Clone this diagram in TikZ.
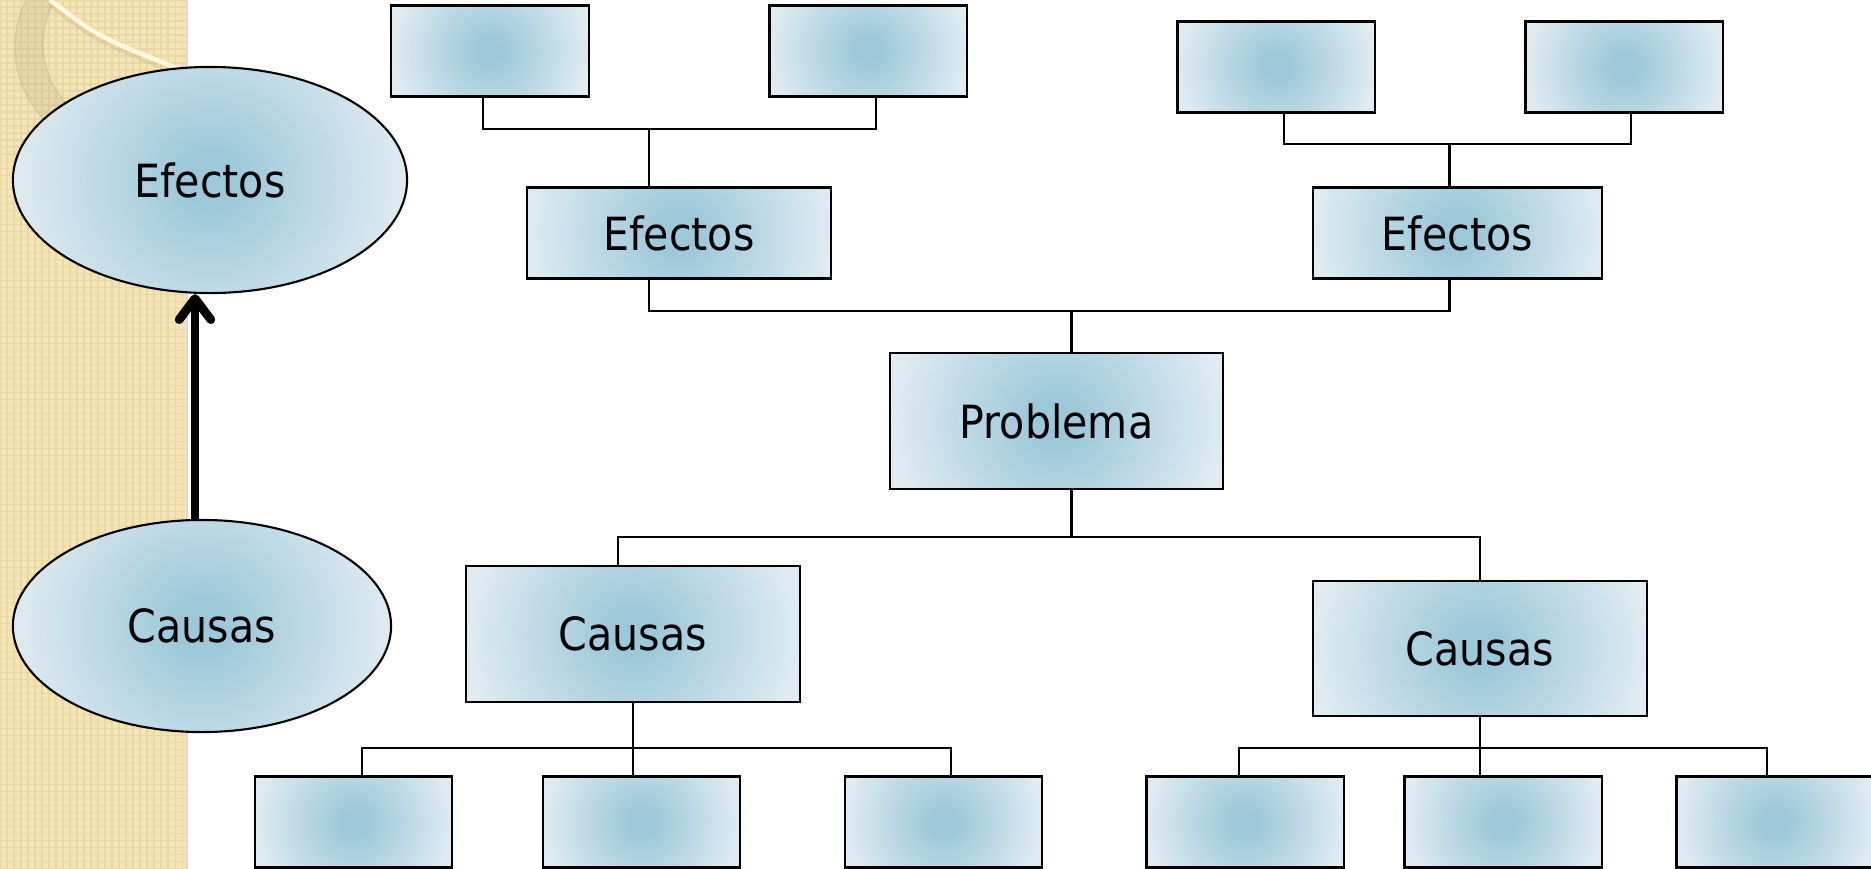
\documentclass[tikz,border=0pt]{standalone}
\usepackage{fontspec}
\setmainfont[FakeStretch=0.9]{DejaVu Sans}
\usetikzlibrary{shapes.geometric,arrows.meta,calc}
\definecolor{inblue}{RGB}{156,200,217}
\definecolor{outblue}{RGB}{223,235,241}
\definecolor{beige}{RGB}{244,228,182}
\definecolor{beigegrid}{RGB}{234,215,166}
\definecolor{beigeline}{RGB}{205,190,150}
\definecolor{highlight}{RGB}{255,248,222}
\pgfdeclareradialshading{boxshade}{\pgfpointorigin}{color(0bp)=(inblue);color(3bp)=(inblue);color(25bp)=(outblue);color(50bp)=(outblue)}
\begin{document}
\begin{tikzpicture}[x=0.01cm,y=-0.01cm,
  shadebox/.style={draw=black,line width=0.6pt,fill=outblue,
    path picture={\shade[shading=boxshade] (path picture bounding box.center) circle (#1);},
    inner sep=0pt,font=\fontsize{13}{15}\selectfont},
  sbox/.style={shadebox=0.985cm,rectangle,minimum width=1.97cm,minimum height=0.91cm},
  ebox/.style={shadebox=#1,rectangle,minimum height=0.91cm},
  bbox/.style={shadebox=1.665cm,rectangle,minimum width=3.33cm,minimum height=1.36cm},
  ell/.style={shadebox=#1,ellipse},
  conn/.style={draw=black,line width=0.6pt},
  bigarrow/.style={draw=black,line width=2.5pt,-{Straight Barb[length=6pt,width=9pt,round]}}]
\useasboundingbox (0,0) rectangle (1871,869);
\fill[white] (0,0) rectangle (1871,869);
% left strip
\fill[beige] (0,0) rectangle (187,869);
\draw[beigegrid,line width=0.35pt,step=0.07cm] (0,0) grid (187,869);
\draw[black!15,line width=0.5pt] (187,0) -- (187,869);
\begin{scope}
  \clip (0,0) rectangle (187,869);
  \fill[black,opacity=0.05,even odd rule] (120,47) circle (105) (131,44) circle (88);
  \draw[beigeline,opacity=0.6,line width=0.4pt] (120,47) circle (105);
  \draw[beigeline,opacity=0.6,line width=0.4pt] (131,44) circle (88);
  \draw[black,opacity=0.06,line width=1.2pt] (50,5) .. controls (100,43) .. (187,77);
  \draw[highlight,line width=1.3pt] (50,0) .. controls (100,38) .. (187,72);
\end{scope}
% top boxes
\node[sbox] (tl1) at (490,51) {};
\node[sbox] (tl2) at (868,51) {};
\node[sbox] (tr1) at (1276,67) {};
\node[sbox] (tr2) at (1624,67) {};
\node[ebox=1.515cm,minimum width=3.03cm] (efL) at (679,233) {Efectos};
\node[ebox=1.44cm,minimum width=2.88cm] (efR) at (1457.5,233) {Efectos};
\node[bbox] (prob) at (1056.5,421) {Problema};
\node[bbox] (caL) at (633,633.6) {Causas};
\node[bbox,minimum height=1.35cm] (caR) at (1480,648.5) {Causas};
\node[sbox] (bl1) at (353.8,822) {};
\node[sbox] (bl2) at (641.3,822) {};
\node[sbox] (bl3) at (943.2,822) {};
\node[sbox] (br1) at (1245,822) {};
\node[sbox] (br2) at (1503,822) {};
\node[sbox] (br3) at (1775,822) {};
% connectors
\draw[conn] ($(tl1.south)+(-7,0)$) -- ++(0,31) coordinate (j1) -| ($(tl2.south)+(8,0)$);
\draw[conn] ($(efL.north)+(-30,0)$) |- (j1);
\draw[conn] ($(tr1.south)+(8,0)$) -- ++(0,30) coordinate (j2) -| ($(tr2.south)+(7,0)$);
\draw[conn] ($(efR.north)+(-8,0)$) |- (j2);
\draw[conn] ($(efL.south)+(-30,0)$) -- ++(0,31) coordinate (j3) -| ($(efR.south)+(-8,0)$);
\draw[conn] ($(prob.north)+(15,0)$) |- (j3);
\draw[conn] ($(prob.south)+(15,0)$) -- ++(0,47) coordinate (j4);
\draw[conn] ($(caL.north)+(-15,0)$) |- (j4) -| (caR.north);
\draw[conn] (caL.south) -- ++(0,45) coordinate (j5);
\draw[conn] ($(bl1.north)+(8,0)$) |- (j5) -| ($(bl3.north)+(8,0)$);
\draw[conn] (j5) -- (j5 |- bl2.north);
\draw[conn] (caR.south) -- ++(0,31) coordinate (j6);
\draw[conn] ($(br1.north)+(-6,0)$) |- (j6) -| ($(br3.north)+(-8,0)$);
\draw[conn] (j6) -- (j6 |- br2.north);
% ellipses
\node[ell=1.97cm,minimum width=3.94cm,minimum height=2.26cm] (efE) at (210,180) {Efectos};
\node[ell=1.89cm,minimum width=3.78cm,minimum height=2.12cm] (caE) at (202,626) {Causas};
\coordinate (ax) at (195,0);
\draw[bigarrow] (ax |- caE.north) -- (ax |- efE.south);
\end{tikzpicture}
\end{document}
